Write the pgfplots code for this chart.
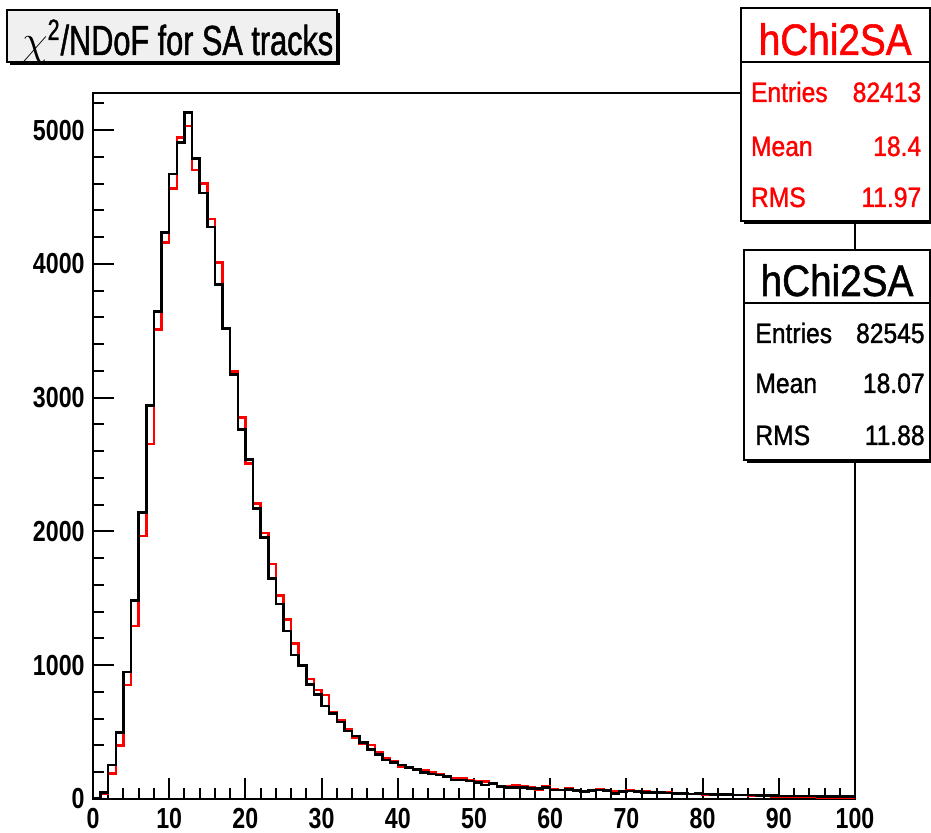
\documentclass[border=0pt]{standalone}
\usepackage{pgfplots}
\pgfplotsset{compat=1.18}
\usepackage{fontspec}
\setmainfont{Liberation Sans}[FakeStretch=0.8]
\newfontfamily\statfont{Liberation Sans}[FakeStretch=0.88, FakeBold=1.2]
\newfontfamily\titlefont{Liberation Sans}[FakeStretch=0.73, FakeBold=1.2]
\definecolor{rootred}{RGB}{255,0,0}
\definecolor{titlegray}{RGB}{240,240,240}

\pgfplotstableread{
x black red
0 5 3
1 47 37
2 254 192
3 498 399
4 951 852
5 1482 1293
6 2140 1966
7 2940 2653
8 3642 3510
9 4233 4158
10 4671 4564
11 4905 4943
12 5130 5030
13 4788 4701
14 4531 4601
15 4277 4335
16 3847 4011
17 3515 3515
18 3174 3194
19 2763 2853
20 2539 2509
21 2173 2210
22 1953 1990
23 1649 1756
24 1457 1520
25 1256 1343
26 1076 1163
27 996 996
28 857 897
29 782 815
30 695 777
31 640 645
32 575 585
33 510 521
34 471 461
35 421 411
36 371 403
37 334 346
38 291 304
39 271 279
40 254 241
41 237 237
42 222 217
43 197 212
44 187 197
45 179 187
46 167 172
47 142 155
48 142 155
49 135 142
50 122 130
51 105 130
52 117 114
53 92 92
54 87 97
55 87 105
56 87 97
57 80 87
58 80 72
59 87 97
60 67 72
61 67 67
62 72 80
63 62 67
64 55 55
65 62 62
66 67 72
67 62 67
68 42 55
69 55 55
70 58 66
71 55 60
72 50 55
73 48 52
74 47 50
75 45 50
76 42 45
77 40 42
78 38 38
79 40 36
80 36 34
81 35 33
82 33 31
83 32 30
84 30 28
85 30 29
86 28 25
87 27 24
88 26 22
89 25 20
90 24 18
91 24 16
92 22 15
93 22 15
94 21 14
95 20 13
96 20 12
97 19 12
98 18 12
99 18 11
100 18 11
}\histdata

\begin{document}
\begin{tikzpicture}
\useasboundingbox (0,0) rectangle (465.5pt,416.5pt);
\begin{axis}[
  scale only axis,
  width=381pt, height=353pt,
  at={(46.5pt,17pt)}, anchor=south west,
  xmin=0, xmax=100, ymin=0, ymax=5277,
  axis line style={line width=1pt},
  xtick={0,10,...,100},
  ytick={0,1000,...,5000},
  minor xtick={2,4,6,8,12,14,16,18,22,24,26,28,32,34,36,38,42,44,46,48,52,54,56,58,62,64,66,68,72,74,76,78,82,84,86,88,92,94,96,98},
  minor ytick={200,400,600,800,1200,1400,1600,1800,2200,2400,2600,2800,3200,3400,3600,3800,4200,4400,4600,4800,5200},
  tick align=inside,
  xtick pos=left, ytick pos=left,
  major tick length=10.5pt,
  minor tick length=5.5pt,
  every tick/.style={line width=1pt, black},
  /pgf/number format/assume math mode=true,
  scaled y ticks=false,
  yticklabel style={font=\bfseries\fontsize{14.5}{14.5}\selectfont, inner sep=0pt, xshift=-4pt},
  xticklabel style={font=\bfseries\fontsize{14.5}{14.5}\selectfont, inner sep=0pt, yshift=-4.5pt},
  /pgf/number format/1000 sep={},
  clip=false,
]
\addplot[const plot, rootred, line width=1.25pt] table[x=x, y=red] {\histdata};
\addplot[const plot, black, line width=1.25pt] table[x=x, y=black] {\histdata};
\end{axis}

% title box
\fill[black] (5pt,384pt) rectangle (170pt,410pt);
\draw[line width=1pt, fill=titlegray] (3.5pt,385.5pt) rectangle (168.5pt,411.5pt);
\node[anchor=base west, inner sep=0pt] at (10.9pt,389pt) {\titlefont\fontsize{21}{21}\selectfont $\chi$\textsuperscript{2}/NDoF for SA tracks};

% red stat box
\fill[black] (371.8pt,304.5pt) rectangle (466pt,411pt);
\draw[line width=1pt, fill=white] (370.3pt,306pt) rectangle (465pt,412.5pt);
\draw[line width=0.8pt] (370.3pt,385.5pt) -- (465pt,385.5pt);
\node[anchor=base, inner sep=0pt, text=rootred] at (417.6pt,389pt) {\statfont\fontsize{22}{22}\selectfont hChi2SA};
\node[anchor=base west, inner sep=0pt, text=rootred] at (375.3pt,365.5pt) {\statfont\fontsize{14}{14}\selectfont Entries};
\node[anchor=base east, inner sep=0pt, text=rootred] at (460.8pt,365.5pt) {\statfont\fontsize{14}{14}\selectfont 82413};
\node[anchor=base west, inner sep=0pt, text=rootred] at (375.3pt,338.5pt) {\statfont\fontsize{14}{14}\selectfont Mean};
\node[anchor=base east, inner sep=0pt, text=rootred] at (460.8pt,338.5pt) {\statfont\fontsize{14}{14}\selectfont 18.4};
\node[anchor=base west, inner sep=0pt, text=rootred] at (375.3pt,313pt) {\statfont\fontsize{14}{14}\selectfont RMS};
\node[anchor=base east, inner sep=0pt, text=rootred] at (460.8pt,313pt) {\statfont\fontsize{14}{14}\selectfont 11.97};

% black stat box
\fill[black] (373.5pt,185pt) rectangle (466pt,290pt);
\draw[line width=1pt, fill=white] (372pt,186.5pt) rectangle (465pt,291.5pt);
\draw[line width=0.8pt] (372pt,265pt) -- (465pt,265pt);
\node[anchor=base, inner sep=0pt] at (418.5pt,268.5pt) {\statfont\fontsize{22}{22}\selectfont hChi2SA};
\node[anchor=base west, inner sep=0pt] at (377.5pt,245pt) {\statfont\fontsize{14}{14}\selectfont Entries};
\node[anchor=base east, inner sep=0pt] at (462.5pt,245pt) {\statfont\fontsize{14}{14}\selectfont 82545};
\node[anchor=base west, inner sep=0pt] at (377.5pt,220pt) {\statfont\fontsize{14}{14}\selectfont Mean};
\node[anchor=base east, inner sep=0pt] at (462.5pt,220pt) {\statfont\fontsize{14}{14}\selectfont 18.07};
\node[anchor=base west, inner sep=0pt] at (377.5pt,194pt) {\statfont\fontsize{14}{14}\selectfont RMS};
\node[anchor=base east, inner sep=0pt] at (462.5pt,194pt) {\statfont\fontsize{14}{14}\selectfont 11.88};
\end{tikzpicture}
\end{document}
